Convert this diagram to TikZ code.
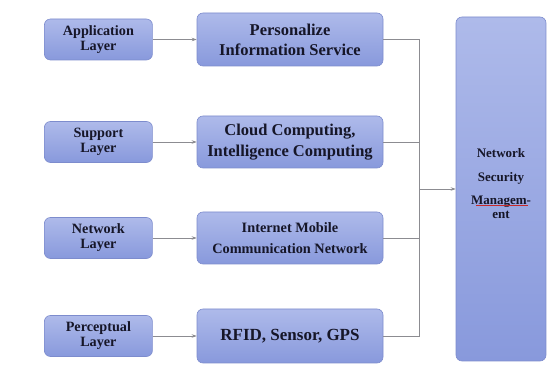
\documentclass[tikz,border=0pt]{standalone}
\usepackage{fontspec}
\setmainfont{LiberationSerif}[Extension=.ttf, UprightFont=*-Regular,
  BoldFont=*-Bold, ItalicFont=*-Italic, BoldItalicFont=*-BoldItalic]
\usetikzlibrary{positioning,arrows.meta}

\definecolor{boxtop}{RGB}{174,186,234}
\definecolor{boxbot}{RGB}{136,153,220}
\definecolor{boxline}{RGB}{125,140,205}
\definecolor{txt}{RGB}{22,22,40}
\definecolor{wire}{RGB}{140,140,145}
\definecolor{spell}{RGB}{200,40,40}

\begin{document}
\begin{tikzpicture}[x=1pt, y=-1pt,
  box/.style={draw=boxline, line width=0.6pt, rounded corners=6pt,
    top color=boxtop, bottom color=boxbot, text=txt, align=center,
    inner sep=0pt, font=\bfseries},
  layer/.style={box, minimum width=108pt, minimum height=41pt,
    font=\bfseries\fontsize{14.2}{15}\selectfont},
  tech/.style={box, minimum width=186pt, minimum height=53pt},
  wire/.style={draw=wire, line width=0.8pt},
  arr/.style={wire, -{Stealth[length=5pt, width=3.5pt, fill=txt!80]}}]
  \useasboundingbox (0,0) rectangle (547,374);
  % technology column in the middle
  \node[tech, font=\bfseries\fontsize{16.5}{20}\selectfont] (pers) at (290,39.5)
    {Personalize\\Information Service};
  \node[tech, minimum height=52pt, font=\bfseries\fontsize{16.5}{21}\selectfont] (cloud) at (290,142)
    {Cloud Computing,\\Intelligence Computing};
  \node[tech, minimum height=52pt, font=\bfseries\fontsize{14.3}{21}\selectfont] (inet) at (290,238)
    {Internet Mobile\\Communication Network};
  \node[tech, minimum height=54pt, font=\bfseries\fontsize{17}{20}\selectfont] (rfid) at (290,336)
    {RFID, Sensor, GPS};
  % layers on the left
  \node[layer, left=44pt of pers] (app) {Application\\Layer};
  \node[layer, left=44pt of cloud] (sup) {Support\\Layer};
  \node[layer, left=44pt of inet] (net) {Network\\Layer};
  \node[layer, left=44pt of rfid] (per) {Perceptual\\Layer};
  % security management on the right
  \node[box, minimum width=90pt, minimum height=344pt,
    font=\bfseries\fontsize{13}{14}\selectfont] (nsm) at (501,189)
    {Network\\[10pt]Security\\[9pt]Managem-\\[0pt]ent\\[-2pt]{}};
  % spell-check mark under the broken word
  \draw[spell, line width=1pt] (476,206) -- (528,206);
  % connectors
  \coordinate (bus) at (419,189);
  \foreach \l/\t in {app/pers, sup/cloud, net/inet, per/rfid}
    \draw[arr] (\l.east |- \t) -- (\t.west);
  \foreach \t in {pers, cloud, inet, rfid}
    \draw[wire] (\t.east) -| (bus);
  \draw[arr] (bus) -- (nsm.west |- bus);
\end{tikzpicture}
\end{document}
